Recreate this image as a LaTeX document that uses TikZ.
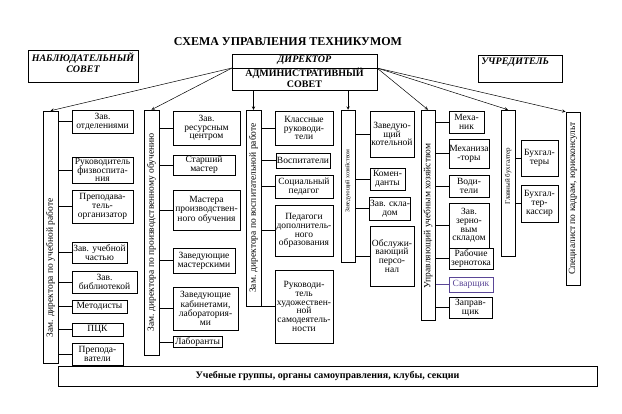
\documentclass[tikz,border=0pt]{standalone}
\usepackage{fontspec}
\setmainfont{Liberation Serif}
\usetikzlibrary{positioning}
\definecolor{svcol}{RGB}{90,70,150}
\tikzset{
 ob/.style={draw, line width=0.5pt, inner sep=0.5pt, align=center, font=\fontsize{9.5}{8.8}\selectfont},
 zam/.style={draw, line width=0.5pt, inner sep=0pt, minimum width=14.5},
 vtext/.style={rotate=90, inner sep=0pt, font=\fontsize{9.5}{9.5}\selectfont},
 hbox/.style={draw, line width=0.5pt, font=\fontsize{10}{11.5}\selectfont\bfseries},
}
\begin{document}
\begin{tikzpicture}[x=1pt,y=-1pt,line width=0.5pt]
 \useasboundingbox (0,0) rectangle (622,413);
 \node[font=\fontsize{12}{12}\selectfont\bfseries] (title) at (288,42) {СХЕМА УПРАВЛЕНИЯ ТЕХНИКУМОМ};

 % верхний ряд
 \node[hbox, anchor=north, minimum width=110, align=center, text depth=8pt, inner sep=2pt, font=\fontsize{10}{11.5}\selectfont\bfseries\itshape] (nab) at (83,50) {НАБЛЮДАТЕЛЬНЫЙ\\СОВЕТ};
 \node[hbox, minimum width=145, minimum height=36, align=center, inner sep=1pt] (dir) at (304.5,72) {\textit{ДИРЕКТОР}\\[2pt]АДМИНИСТРАТИВНЫЙ\\СОВЕТ};
 \node[hbox, anchor=north west, text width=78, text depth=14pt, inner sep=3pt, font=\fontsize{10}{11.5}\selectfont\bfseries\itshape] (uchr) at (478,55) {УЧРЕДИТЕЛЬ};
 \coordinate (dl) at (232,68);
 \coordinate (dr) at (377,68);
 \draw (dl) -- (dr);

 % заместители
 \node[zam, minimum height=252] (z1) at (50.5,237) {};
 \node[zam, minimum height=245] (z2) at (151.5,232.5) {};
 \node[zam, minimum height=196] (z3) at (253.5,208) {};
 \node[zam, minimum height=152] (z4) at (348,186) {};
 \node[zam, minimum height=210] (z5) at (428,215) {};
 \node[zam, minimum height=146] (z6) at (508,183) {};
 \node[zam, minimum height=173] (z7) at (573,198.5) {};
 \node[vtext] (t1) at (50.5,268) {Зам. директора по учебной работе};
 \node[vtext] (t2) at (z2) {Зам. директора по производственному обучению};
 \node[vtext] (t3) at (z3) {Зам. директора по воспитательной работе};
 \node[vtext, font=\fontsize{6}{6}\selectfont] (t4) at (348,181) {Заведующий хозяйством};
 \node[vtext] (t5) at (428,216) {Управляющий учебным хозяйством};
 \node[vtext, font=\fontsize{7}{7}\selectfont] (t6) at (508,176) {Главный бухгалтер};
 \node[vtext] (t7) at (z7) {Специалист по кадрам, юрисконсульт};

 \draw[-stealth] (dl) -- (z1.north);
 \draw[-stealth] (dl) -- (z2.north);
 \draw[-stealth] (dir.south -| z3) -- (z3.north);
 \draw[-stealth] (dir.south -| z4) -- (z4.north);
 \draw[-stealth] (dr) -- (z5.north);
 \draw[-stealth] (dr) -- (z6.north);
 \draw[-stealth] (dr) -- (z7.north west);

 % учебная работа
 \node[ob, minimum width=61, minimum height=23] (a1) at (102.5,121.5) {Зав.\\отделениями};
 \node[ob, minimum width=61, minimum height=26] (a2) at (102.5,170) {Руководитель\\физвоспита-\\ния};
 \node[ob, minimum width=61, minimum height=33] (a3) at (102.5,206.5) {Преподава-\\тель-\\организатор};
 \node[ob, minimum width=55, minimum height=21] (a4) at (99.5,252.5) {Зав. учебной\\частью};
 \node[ob, minimum width=65, minimum height=22] (a5) at (104.5,282) {Зав.\\библиотекой};
 \node[ob, minimum width=55, minimum height=13] (a6) at (99.5,306.5) {Методисты};
 \node[ob, minimum width=51, minimum height=13] (a7) at (97.5,329.5) {ПЦК};
 \node[ob, minimum width=51, minimum height=22] (a8) at (97.5,354) {Препода-\\ватели};

 % производственное обучение
 \node[ob, minimum width=67, minimum height=34] (b1) at (206.5,128) {Зав.\\ресурсным\\центром};
 \node[ob, minimum width=62, minimum height=20] (b2) at (204,165) {Старший\\мастер};
 \node[ob, minimum width=67, minimum height=40] (b3) at (206.5,210) {Мастера\\производствен-\\ного обучения};
 \node[ob, minimum width=62, minimum height=25] (b4) at (204,260.5) {Заведующие\\мастерскими};
 \node[ob, minimum width=65, minimum height=43] (b5) at (205.5,308.5) {Заведующие\\кабинетами,\\лаборатория-\\ми};
 \node[ob, minimum width=49, minimum height=11] (b6) at (197.5,342) {Лаборанты};

 % воспитательная работа
 \node[ob, minimum width=58, minimum height=34] (c1) at (304,128) {Классные\\руководи-\\тели};
 \node[ob, minimum width=54, minimum height=15] (c2) at (303,160.5) {Воспитатели};
 \node[ob, minimum width=58, minimum height=23] (c3) at (304,186.5) {Социальный\\педагог};
 \node[ob, minimum width=58, minimum height=51] (c4) at (304,230.5) {Педагоги\\дополнитель-\\ного\\образования};
 \node[ob, minimum width=58, minimum height=73] (c5) at (304,306.5) {Руководи-\\тель\\художествен-\\ной\\самодеятель-\\ности};

 % хозяйство
 \node[ob, minimum width=44, minimum height=46] (d1) at (392,134) {Заведую-\\щий\\котельной};
 \node[ob, minimum width=35, minimum height=22] (d2) at (387.5,179) {Комен-\\данты};
 \node[ob, minimum width=40, minimum height=23] (d3) at (390,208.5) {Зав. скла-\\дом};
 \node[ob, minimum width=44, minimum height=60] (d4) at (392,256) {Обслужи-\\вающий\\персо-\\нал};

 % учебное хозяйство
 \node[ob, minimum width=35, minimum height=22] (e1) at (466.5,122) {Меха-\\ник};
 \node[ob, minimum width=40, minimum height=29] (e2) at (469,153.5) {Механиза\\-торы};
 \node[ob, minimum width=40, minimum height=22] (e3) at (469,186) {Води-\\тели};
 \node[ob, minimum width=40, minimum height=45] (e4) at (469,225.5) {Зав.\\зерно-\\вым\\складом};
 \node[ob, minimum width=44, minimum height=21] (e5) at (471,258.5) {Рабочие\\зернотока};
 \node[ob, minimum width=44, minimum height=15, draw=svcol, text=svcol] (e6) at (471,284.5) {Сварщик};
 \node[ob, minimum width=43, minimum height=21] (e7) at (470.5,307.5) {Заправ-\\щик};

 % бухгалтерия
 \node[ob, minimum width=37, minimum height=36] (f1) at (539.5,158) {Бухгал-\\теры};
 \node[ob, minimum width=37, minimum height=37] (f2) at (539.5,203.5) {Бухгал-\\тер-\\кассир};

 \foreach \b in {a1,a2,a3,a4,a5,a6,a7,a8} \draw (z1.east |- \b.west) -- (\b.west);
 \foreach \b in {b1,b2,b3,b4,b5,b6} \draw (z2.east |- \b.west) -- (\b.west);
 \foreach \b in {c1,c2,c3,c4,c5} \draw (z3.east |- \b.west) -- (\b.west);
 \foreach \b in {d1,d2,d3,d4} \draw (z4.east |- \b.west) -- (\b.west);
 \foreach \b in {e1,e2,e3,e4,e5,e7} \draw (z5.east |- \b.west) -- (\b.west);
 \draw[svcol] (z5.east |- e6.west) -- (e6.west);
 \foreach \b in {f1,f2} \draw (z6.east |- \b.west) -- (\b.west);

 \node[hbox, fill=white, minimum width=539, minimum height=20] (grp) at (327.5,376) {Учебные группы, органы самоуправления, клубы, секции};
\end{tikzpicture}
\end{document}
